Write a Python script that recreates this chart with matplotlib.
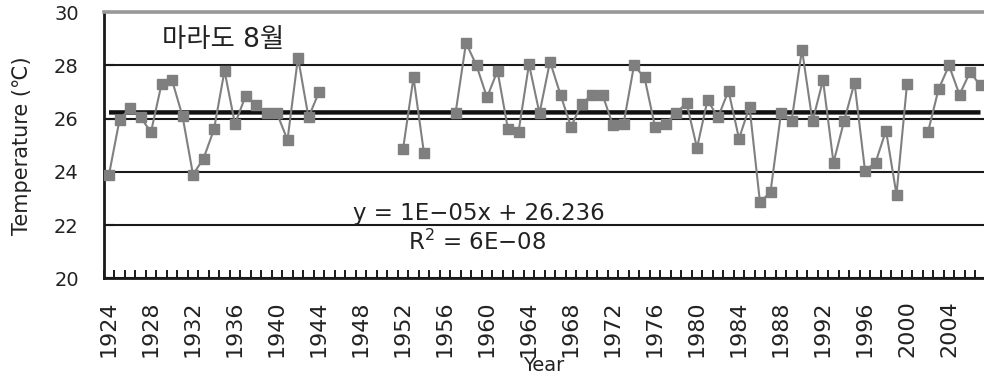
import numpy as np
import matplotlib
matplotlib.use("Agg")
import matplotlib.pyplot as plt
from matplotlib.ticker import MultipleLocator

plt.rcParams["font.family"] = ["DejaVu Sans", "Noto Sans CJK KR"]

# 마라도 8월 평균기온 (결측 연도는 None)
years = list(range(1924, 2008))
temps = [
    23.9, 25.95, 26.4, 26.05, 25.5, 27.3, 27.45, 26.1, 23.9, 24.5,   # 1924-1933
    25.6, 27.8, 25.8, 26.85, 26.5, 26.2, 26.2, 25.2, 28.3, 26.05,    # 1934-1943
    27.0, None, None, None, None, None, None, None, 24.85, 27.55,    # 1944-1953
    24.7, None, None, 26.2, 28.85, 28.0, 26.8, 27.8, 25.6, 25.5,     # 1954-1963
    28.05, 26.2, 28.15, 26.9, 25.7, 26.55, 26.9, 26.9, 25.75, 25.8,  # 1964-1973
    28.0, 27.55, 25.7, 25.8, 26.2, 26.6, 24.9, 26.7, 26.05, 27.05,   # 1974-1983
    25.25, 26.45, 22.85, 23.25, 26.2, 25.9, 28.6, 25.9, 27.45, 24.35,  # 1984-1993
    25.9, 27.35, 24.05, 24.35, 25.55, 23.15, 27.3, None, 25.5, 27.1,   # 1994-2003
    28.0, 26.9, 27.75, 27.25,                                          # 2004-2007
]
year_ticks = list(range(1924, 2008, 4))
slope, intercept = 1e-05, 26.236
r_squared = "6E\u221208"

temps = np.array([np.nan if t is None else t for t in temps])
idx = np.arange(1, len(years) + 1)
trend = slope * idx + intercept

fig = plt.figure(figsize=(9.84, 3.86), dpi=100)
ax = fig.add_axes([103.75 / 984, 1 - 278.3 / 386, (984 - 103.75) / 984, 266 / 386])

ax.plot(years, trend, color="#111111", lw=3.2, solid_capstyle="butt", zorder=3)
ax.plot(years, temps, color="#808080", lw=1.5, marker="s", markersize=7.8,
        markerfacecolor="#7f7f7f", markeredgecolor="#7f7f7f", zorder=4)

ax.set_xlim(1923.5, 1923.5 + (984 - 103.75) / 10.5)
ax.set_ylim(20, 30)
ax.set_yticks([20, 22, 24, 26, 28, 30])
ax.yaxis.grid(True, color="#1a1a1a", lw=1.5)
ax.set_axisbelow(True)

ax.set_xticks(year_ticks)
ax.xaxis.set_minor_locator(MultipleLocator(1, offset=0.5))
ax.tick_params(axis="x", which="major", length=0, pad=16, labelsize=16,
               labelrotation=90, labelcolor="#222222")
ax.tick_params(axis="x", which="minor", direction="in", length=5.5, width=1.4,
               color="#1a1a1a")
ax.tick_params(axis="y", direction="in", length=7, width=1.5, color="#1a1a1a",
               pad=18, labelsize=14, labelcolor="#222222")

for side in ("left", "bottom"):
    ax.spines[side].set_color("#1a1a1a")
    ax.spines[side].set_linewidth(2)
ax.spines["top"].set_color("#999999")
ax.spines["top"].set_linewidth(2.6)
ax.spines["right"].set_visible(False)

ax.set_xlabel("Year", fontsize=14, color="#222222", labelpad=-1)
ax.set_ylabel("Temperature (℃)", fontsize=15, color="#222222", labelpad=16)

ax.text(1929.05, 28.96, "마라도 8월", fontsize=19, color="#222222",
        ha="left", va="center")
ax.text(1959.2, 22.45, f"y = 1E\u221205x + {intercept}", fontsize=16.5,
        color="#222222", ha="center", va="center")
ax.text(1959.1, 21.36, f"R$^2$ = {r_squared}", fontsize=16.5,
        color="#222222", ha="center", va="center")

fig.savefig("out.png", dpi=100)
